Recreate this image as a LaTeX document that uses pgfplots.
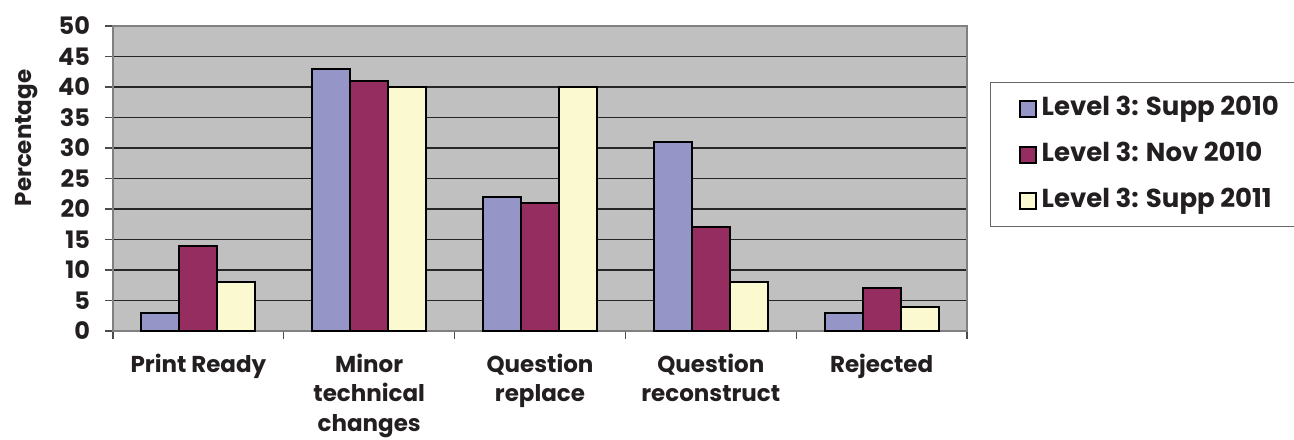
\documentclass[border=0pt]{standalone}
\usepackage{fontspec}
\setmainfont{Poppins}
\usepackage{pgfplots}
\pgfplotsset{compat=1.18}
\definecolor{sA}{HTML}{9595C8}
\definecolor{sB}{HTML}{962D60}
\definecolor{sC}{HTML}{FBF9D0}
\definecolor{bg}{HTML}{C0C0C0}
\definecolor{txt}{HTML}{231F20}
\begin{document}
\begin{tikzpicture}
\useasboundingbox (-56.5pt,-54pt) rectangle (590.5pt,165.5pt);
\begin{axis}[
  scale only axis,
  width=427pt, height=152.5pt,
  at={(0,0)}, anchor=south west,
  xmin=-0.5, xmax=4.5, ymin=0, ymax=50,
  ytick={0,5,...,50},
  xtick={0,1,2,3,4},
  xticklabels={Print Ready,Minor\\technical\\changes,Question\\replace,Question\\reconstruct,Rejected},
  minor xtick={-0.5,0.5,1.5,2.5,3.5,4.5},
  xtick pos=bottom, ytick pos=left,
  major x tick style={draw=none},
  minor x tick style={draw=black!70, line width=0.6pt},
  y tick style={draw=black!70, line width=0.6pt},
  tick align=outside,
  major tick length=4pt, minor tick length=4pt,
  ymajorgrids,
  major grid style={draw=black!85, line width=0.6pt},
  axis background/.style={fill=bg},
  axis line style={draw=black!50, line width=0.8pt},
  /pgf/number format/assume math mode=true,
  yticklabel style={font=\bfseries\fontsize{12}{13}\selectfont, text=txt, xshift=-4pt},
  xticklabel style={align=center, font=\bfseries\fontsize{11.5}{14.75}\selectfont, text=txt, yshift=-4pt, anchor=north},
  ylabel={Percentage},
  ylabel style={font=\bfseries\fontsize{11.5}{14}\selectfont, text=txt, at={(axis description cs:-0.1007,0.633)}, anchor=center},
  ybar=0pt, bar width=19pt,
  every axis plot/.append style={draw=black, line width=1.1pt},
  legend style={at={(axis description cs:1.027,0.816)}, anchor=north west,
    draw=black!60, line width=0.6pt, fill=white,
    font=\bfseries\fontsize{13}{15}\selectfont, text=txt,
    inner xsep=14pt, inner ysep=5pt, row sep=7pt,
    nodes={text height=9.5pt, text depth=2.5pt, inner xsep=2.5pt}},
  legend cell align=left,
  legend image code/.code={\draw[#1, line width=1pt] (0pt,-4pt) rectangle (8pt,4pt);},
]
\addplot[fill=sA] coordinates {(0,3) (1,43) (2,22) (3,31) (4,3)};
\addplot[fill=sB] coordinates {(0,14) (1,41) (2,21) (3,17) (4,7)};
\addplot[fill=sC] coordinates {(0,8) (1,40) (2,40) (3,8) (4,4)};
\legend{Level 3: Supp 2010,Level 3: Nov 2010,Level 3: Supp 2011}
\end{axis}
\end{tikzpicture}
\end{document}
